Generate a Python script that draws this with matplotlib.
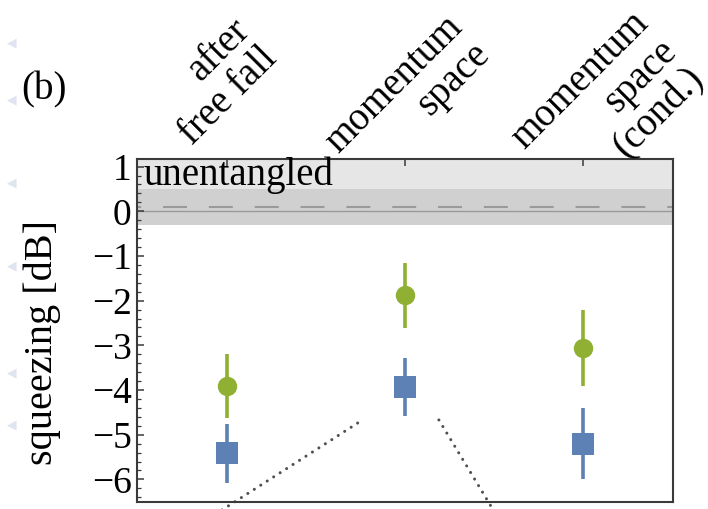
import matplotlib
matplotlib.use("Agg")
import matplotlib.pyplot as plt
from matplotlib.ticker import MultipleLocator
import matplotlib.transforms as mtransforms

# ---------------------------------------------------------
# data
# ---------------------------------------------------------
categories = ["after\nfree fall", "momentum\nspace", "momentum\nspace\n(cond.)"]
xpos = [1, 2, 3]

green_vals = [-3.91, -1.88, -3.07]
green_err = [0.72, 0.73, 0.85]

blue_vals = [-5.42, -3.93, -5.20]
blue_err = [0.65, 0.65, 0.80]

# shaded regions / reference lines
band_light = (0.5, 1.5)
band_dark = (-0.3, 0.5)
dashed_level = 0.1

# dotted zoom-indicator lines (x, y)
dots_left_x = [0.93, 1.758]
dots_left_y = [-6.80, -4.68]
dots_right_x = [2.19, 2.512]
dots_right_y = [-4.67, -6.80]

# label positions (x data, y axes fraction)
label_x = [0.935, 2.017, 3.138]
label_y = [1.225, 1.178, 1.147]

GREEN = "#8fb032"
BLUE = "#5e81b5"

plt.rcParams["font.family"] = ["Liberation Serif", "DejaVu Serif"]
FS = 28

fig = plt.figure(figsize=(7.08, 5.09), dpi=100)
ax = fig.add_axes([0.1939, 0.0143, 0.7562, 0.6733])

ax.set_xlim(0.5, 3.5)
ax.set_ylim(-6.5, 1.17)

# bands
ax.axhspan(*band_light, color="#e6e6e6", lw=0, zorder=0)
ax.axhspan(*band_dark, color="#d0d0d0", lw=0, zorder=0)
ax.axhline(0, color="#9a9a9a", lw=1.0, zorder=1)
ax.axhline(dashed_level, color="#9a9a9a", lw=1.5,
           linestyle=(9.5, (11.5, 10.5)), zorder=1)

ax.text(0.536, 0.59, "unentangled", fontsize=FS, va="baseline", ha="left")

# error bars
ax.errorbar(xpos, green_vals, yerr=green_err, fmt="o", color=GREEN,
            ms=14, elinewidth=2.6, capsize=0, mew=0, zorder=3)
ax.errorbar(xpos, blue_vals, yerr=blue_err, fmt="s", color=BLUE,
            ms=15.5, elinewidth=2.6, capsize=0, mew=0, zorder=3)

# dotted lines toward the next panel
for xs, ys in [(dots_left_x, dots_left_y), (dots_right_x, dots_right_y)]:
    ax.plot(xs, ys, color="#505050", lw=2.2, linestyle=(0, (0.01, 2.5)),
            dash_capstyle="round", clip_on=False, zorder=2)

# spines and ticks
for s in ax.spines.values():
    s.set_color("#3a3a3a")
    s.set_linewidth(1.5)

ax.yaxis.set_major_locator(MultipleLocator(1))
ax.yaxis.set_minor_locator(MultipleLocator(0.2))
ax.tick_params(axis="y", which="major", direction="in", length=5, width=1.1,
               color="#3a3a3a", labelsize=FS - 1, pad=4, right=False)
ax.tick_params(axis="y", which="minor", direction="in", length=3, width=0.9,
               color="#3a3a3a", right=False)
ax.set_xticks(xpos)
ax.tick_params(axis="x", which="both", direction="in", length=5, width=1.1,
               bottom=False, top=True, labelbottom=False, labeltop=False,
               color="#3a3a3a")
ax.set_yticklabels([("\u2212%d" % -v if v < 0 else "%d" % v)
                    for v in ax.get_yticks()])

ax.set_ylabel("squeezing [dB]", fontsize=FS + 1)
ax.yaxis.set_label_coords(-0.142, 0.466)

# rotated category labels above the frame
trans = mtransforms.blended_transform_factory(ax.transData, ax.transAxes)
for lab, lx, ly in zip(categories, label_x, label_y):
    ax.text(lx, ly, lab, transform=trans, rotation=45, fontsize=FS,
            ha="center", va="center", multialignment="right",
            linespacing=1.08, clip_on=False)

fig.text(44 / 708, 1 - 90 / 509, "(b)", fontsize=FS, ha="center", va="center")

# faint page markers at the left edge
marker_y = [43, 100, 183, 266, 373, 425]
for my in marker_y:
    fig.text(12 / 708, 1 - my / 509, "\u25c0", fontsize=9, color="#dfe4f1",
             ha="center", va="center", family="DejaVu Sans")

fig.savefig("out.png", dpi=100)
